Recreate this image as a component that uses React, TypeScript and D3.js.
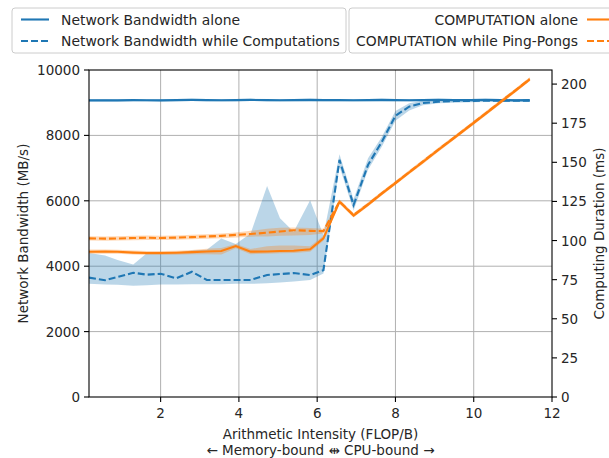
import React from "react";
import * as d3 from "d3";

const xs = [0.17, 0.58, 0.9, 1.3, 1.65, 2.0, 2.4, 2.8, 3.18, 3.55, 3.92, 4.3, 4.72, 5.05, 5.4, 5.82, 6.16, 6.57, 6.93, 7.3, 7.65, 8.0, 8.35, 8.7, 9.1, 9.5, 9.9, 10.3, 10.7, 11.05, 11.43];

const bwAlone = [9070, 9075, 9070, 9080, 9075, 9070, 9080, 9085, 9080, 9075, 9080, 9085, 9080, 9075, 9080, 9085, 9080, 9080, 9075, 9080, 9085, 9080, 9075, 9080, 9085, 9080, 9080, 9085, 9080, 9075, 9080];
const bwAloneMin = [9035, 9040, 9035, 9045, 9040, 9035, 9045, 9050, 9045, 9040, 9045, 9050, 9045, 9040, 9045, 9050, 9045, 9045, 9040, 9045, 9050, 9045, 9040, 9045, 9050, 9045, 9045, 9050, 9045, 9040, 9045];
const bwAloneMax = [9105, 9110, 9105, 9115, 9110, 9105, 9115, 9120, 9115, 9110, 9115, 9120, 9115, 9110, 9115, 9120, 9115, 9115, 9110, 9115, 9120, 9115, 9110, 9115, 9120, 9115, 9115, 9120, 9115, 9110, 9115];

const bwComp = [3650, 3570, 3670, 3800, 3740, 3770, 3630, 3830, 3580, 3580, 3580, 3580, 3730, 3760, 3790, 3730, 3880, 7250, 5870, 7100, 7800, 8600, 8880, 8990, 9030, 9050, 9055, 9060, 9065, 9060, 9060];
const bwCompMin = [3460, 3440, 3430, 3400, 3420, 3440, 3440, 3450, 3450, 3450, 3460, 3460, 3480, 3500, 3530, 3580, 3780, 7050, 5700, 6950, 7650, 8450, 8760, 8920, 8980, 9000, 9010, 9020, 9020, 9020, 9020];
const bwCompMax = [4400, 4330, 4190, 4050, 4400, 4400, 4420, 4480, 4500, 4850, 4680, 5000, 6450, 5470, 5050, 6020, 4950, 7420, 6050, 7300, 7950, 8750, 8980, 9060, 9090, 9100, 9100, 9100, 9100, 9100, 9100];

const cpuAlone = [92.8, 92.9, 92.8, 92.3, 92.0, 92.0, 92.2, 92.6, 93.0, 93.3, 96.5, 92.9, 93.0, 93.3, 93.5, 94.4, 101.4, 124.8, 116.0, 123.0, 130.0, 136.7, 143.5, 150.2, 158.0, 165.6, 173.3, 181.0, 188.8, 195.5, 203.0];
const cpuAloneMin = [91.5, 91.6, 91.5, 91.0, 90.8, 90.8, 90.9, 91.2, 91.3, 91.0, 95.0, 91.3, 91.6, 91.8, 92.0, 92.8, 99.8, 123.5, 114.8, 121.8, 128.8, 135.5, 142.3, 149.0, 156.8, 164.4, 172.1, 179.8, 187.6, 194.3, 201.8];
const cpuAloneMax = [94.2, 94.2, 94.1, 93.6, 93.3, 93.3, 93.5, 94.0, 94.8, 95.2, 97.8, 94.6, 96.3, 96.8, 96.8, 96.3, 103.0, 126.0, 117.2, 124.2, 131.2, 137.9, 144.7, 151.4, 159.2, 166.8, 174.5, 182.2, 190.0, 196.7, 204.2];

const cpuPP = [101.4, 101.2, 101.3, 101.6, 101.8, 101.6, 101.9, 102.2, 102.6, 103.0, 103.6, 104.2, 105.0, 105.8, 106.6, 106.2, 106.0, 125.0, 116.3, 123.2, 130.2, 136.9, 143.7, 150.4, 158.2, 165.8, 173.5, 181.2, 189.0, 195.7, 203.2];
const cpuPPMin = [100.0, 99.9, 100.0, 100.2, 100.4, 100.3, 100.5, 100.8, 101.1, 101.5, 102.0, 102.5, 102.6, 103.0, 103.2, 103.5, 104.5, 123.8, 115.2, 122.0, 129.0, 135.7, 142.5, 149.2, 157.0, 164.6, 172.3, 180.0, 187.8, 194.5, 202.0];
const cpuPPMax = [102.8, 102.6, 102.7, 103.0, 103.2, 103.0, 103.3, 103.7, 104.1, 104.5, 105.2, 106.2, 107.6, 108.2, 108.4, 108.0, 107.5, 126.2, 117.5, 124.4, 131.4, 138.1, 144.9, 151.6, 159.4, 167.0, 174.7, 182.4, 190.2, 196.9, 204.4];

const xTicks = [2, 4, 6, 8, 10, 12];
const yLeftTicks = [0, 2000, 4000, 6000, 8000, 10000];
const yRightTicks = [0, 25, 50, 75, 100, 125, 150, 175, 200];

const legendLeft = ["Network Bandwidth alone", "Network Bandwidth while Computations"];
const legendRight = ["COMPUTATION alone", "COMPUTATION while Ping-Pongs"];

const BLUE = "#1f77b4";
const ORANGE = "#ff7f0e";
const FONT = "DejaVu Sans";
const FS = 13.5;
const LFS = 13.9;

export default function App() {
  const W = 609, H = 458;
  const L = 89, R = 552, T = 70, B = 397;
  const x = d3.scaleLinear().domain([0.17, 12]).range([L, R]);
  const yL = d3.scaleLinear().domain([0, 10000]).range([B, T]);
  const yR = d3.scaleLinear().domain([0, 209]).range([B, T]);

  const lineGen = (ys: number[], y: d3.ScaleLinear<number, number>) =>
    d3.line<number>().x((_, i) => x(xs[i])).y((d) => y(d))(ys) || "";
  const areaGen = (lo: number[], hi: number[], y: d3.ScaleLinear<number, number>) =>
    d3.area<number>().x((_, i) => x(xs[i])).y0((d) => y(d)).y1((_, i) => y(hi[i]))(lo) || "";

  const dash = "7,3";
  const txt = "#262626";

  return (
    <svg width={W} height={H} style={{ position: "absolute", left: 0, top: 0, background: "#fff" }} fontFamily={FONT}>
      <rect x={0} y={0} width={W} height={H} fill="#fff" />
      <defs>
        <clipPath id="plot">
          <rect x={L} y={T} width={R - L} height={B - T} />
        </clipPath>
      </defs>
      {xTicks.filter((t) => t < 12).map((t) => (
        <line key={"gx" + t} x1={x(t)} x2={x(t)} y1={T} y2={B} stroke="#b0b0b0" strokeWidth={1} />
      ))}
      {yLeftTicks.filter((t) => t > 0 && t < 10000).map((t) => (
        <line key={"gy" + t} x1={L} x2={R} y1={yL(t)} y2={yL(t)} stroke="#b0b0b0" strokeWidth={1} />
      ))}
      <g clipPath="url(#plot)">
        <path d={areaGen(bwAloneMin, bwAloneMax, yL)} fill={BLUE} opacity={0.3} />
        <path d={areaGen(bwCompMin, bwCompMax, yL)} fill={BLUE} opacity={0.3} />
        <path d={lineGen(bwAlone, yL)} fill="none" stroke={BLUE} strokeWidth={2.1} />
        <path d={lineGen(bwComp, yL)} fill="none" stroke={BLUE} strokeWidth={2.1} strokeDasharray={dash} />
        <path d={areaGen(cpuAloneMin, cpuAloneMax, yR)} fill={ORANGE} opacity={0.3} />
        <path d={areaGen(cpuPPMin, cpuPPMax, yR)} fill={ORANGE} opacity={0.3} />
        <path d={lineGen(cpuAlone, yR)} fill="none" stroke={ORANGE} strokeWidth={2.1} />
        <path d={lineGen(cpuPP, yR)} fill="none" stroke={ORANGE} strokeWidth={2.1} strokeDasharray={dash} />
      </g>
      <rect x={L} y={T} width={R - L} height={B - T} fill="none" stroke="#000" strokeWidth={1.1} />
      {xTicks.map((t) => (
        <g key={"xt" + t}>
          <line x1={x(t)} x2={x(t)} y1={B} y2={B + 5} stroke="#000" strokeWidth={1.1} />
          <text x={x(t)} y={B + 16} textAnchor="middle" dominantBaseline="central" fontSize={FS} fill={txt}>{t}</text>
        </g>
      ))}
      {yLeftTicks.map((t) => (
        <g key={"yl" + t}>
          <line x1={L - 5} x2={L} y1={yL(t)} y2={yL(t)} stroke="#000" strokeWidth={1.1} />
          <text x={L - 9} y={yL(t)} textAnchor="end" dominantBaseline="central" fontSize={FS} fill={txt}>{t}</text>
        </g>
      ))}
      {yRightTicks.map((t) => (
        <g key={"yr" + t}>
          <line x1={R} x2={R + 5} y1={yR(t)} y2={yR(t)} stroke="#000" strokeWidth={1.1} />
          <text x={R + 9} y={yR(t)} textAnchor="start" dominantBaseline="central" fontSize={FS} fill={txt}>{t}</text>
        </g>
      ))}
      <text x={(L + R) / 2} y={434} textAnchor="middle" dominantBaseline="central" fontSize={FS} fill={txt}>Arithmetic Intensity (FLOP/B)</text>
      <text x={(L + R) / 2} y={450} textAnchor="middle" dominantBaseline="central" fontSize={FS} fill={txt}>← Memory-bound ⇹ CPU-bound →</text>
      <text transform={`translate(23,${(T + B) / 2}) rotate(-90)`} textAnchor="middle" dominantBaseline="central" fontSize={FS} fill={txt}>Network Bandwidth (MB/s)</text>
      <text transform={`translate(599,${(T + B) / 2}) rotate(-90)`} textAnchor="middle" dominantBaseline="central" fontSize={FS} fill={txt}>Computing Duration (ms)</text>
      <rect x={12} y={8} width={334} height={45} rx={3} fill="#fff" fillOpacity={0.8} stroke="#cccccc" strokeWidth={1} />
      <line x1={21} x2={49} y1={19.5} y2={19.5} stroke={BLUE} strokeWidth={2.1} />
      <line x1={21} x2={49} y1={41} y2={41} stroke={BLUE} strokeWidth={2.1} strokeDasharray={dash} />
      <text x={61} y={19.5} dominantBaseline="central" fontSize={LFS} fill={txt}>{legendLeft[0]}</text>
      <text x={61} y={41} dominantBaseline="central" fontSize={LFS} fill={txt}>{legendLeft[1]}</text>
      <rect x={349} y={8} width={290} height={45} rx={3} fill="#fff" fillOpacity={0.8} stroke="#cccccc" strokeWidth={1} />
      <text x={578} y={19.5} textAnchor="end" dominantBaseline="central" fontSize={LFS} fill={txt}>{legendRight[0]}</text>
      <text x={578} y={41} textAnchor="end" dominantBaseline="central" fontSize={LFS} fill={txt}>{legendRight[1]}</text>
      <line x1={587} x2={615} y1={19.5} y2={19.5} stroke={ORANGE} strokeWidth={2.1} />
      <line x1={587} x2={615} y1={41} y2={41} stroke={ORANGE} strokeWidth={2.1} strokeDasharray={dash} />
    </svg>
  );
}
